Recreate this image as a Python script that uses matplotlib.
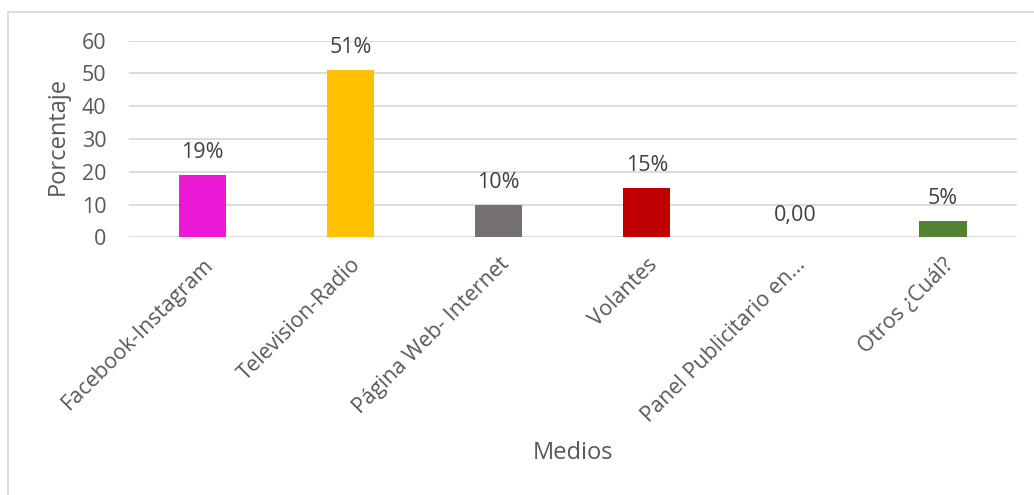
import matplotlib.pyplot as plt
from matplotlib.lines import Line2D

medios = ["Facebook-Instagram", "Television-Radio", "Página Web- Internet",
          "Volantes", "Panel Publicitario en...", "Otros ¿Cuál?"]
porcentajes = [19, 51, 10, 15, 0, 5]
etiquetas = ["19%", "51%", "10%", "15%", "0,00", "5%"]
colores = ["#EB18D4", "#FFC000", "#767171", "#C00000", "#A5A5A5", "#548235"]
yticks = [0, 10, 20, 30, 40, 50, 60]

W, H = 1034, 495
fig = plt.figure(figsize=(W / 100, H / 100), dpi=100)
plt.rcParams["font.family"] = ["Open Sans", "DejaVu Sans"]
txt = "#595959"
fs = 15.5

# plot area in pixel coordinates
x0, x1 = 128.5, 1017
y_top, y_bot = 40.7, 237.3
ax = fig.add_axes([x0 / W, 1 - y_bot / H, (x1 - x0) / W, (y_bot - y_top) / H])

pos = list(range(len(medios)))
ax.bar(pos, porcentajes, width=0.32, color=colores, zorder=3)
ax.set_xlim(-0.5, len(medios) - 0.5)
ax.set_ylim(0, 60)
ax.set_yticks(yticks)
ax.set_yticklabels([str(v) for v in yticks], fontsize=fs, color=txt)
ax.grid(axis="y", color="#D9D9D9", linewidth=1.3, zorder=0)
ax.tick_params(axis="both", length=0)
ax.tick_params(axis="y", pad=16)
for s in ax.spines.values():
    s.set_visible(False)

ax.set_xticks(pos)
ax.set_xticklabels(medios, rotation=45, ha="right", rotation_mode="anchor",
                   fontsize=fs, color=txt)
ax.tick_params(axis="x", pad=12)

for p, v, t in zip(pos, porcentajes, etiquetas):
    ax.annotate(t, (p, v), xytext=(0, 16), textcoords="offset points",
                ha="center", va="center", fontsize=fs, color="#404040")

fig.text(58 / W, 1 - 136 / H, "Porcentaje", rotation=90, ha="center",
         va="center", fontsize=17, color=txt)
fig.text(573 / W, 1 - 453 / H, "Medios", ha="center", va="center",
         fontsize=17, color=txt)

# outer chart frame
fig.add_artist(Line2D([7.5 / W, 7.5 / W], [0, 1 - 11.5 / H],
                      transform=fig.transFigure, color="#D9D9D9", lw=1.3))
fig.add_artist(Line2D([7.5 / W, 1], [1 - 11.5 / H, 1 - 11.5 / H],
                      transform=fig.transFigure, color="#D9D9D9", lw=1.3))

fig.savefig("out.png", dpi=100, facecolor="white")
